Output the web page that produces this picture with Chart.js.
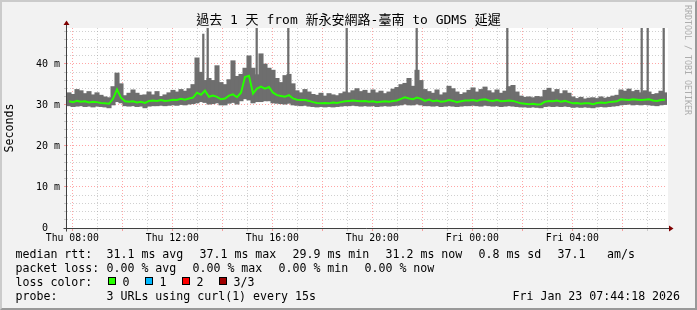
<!DOCTYPE html>
<html>
<head>
<meta charset="utf-8">
<script src="https://cdn.jsdelivr.net/npm/chart.js@4"></script>
<style>
  html, body { margin: 0; padding: 0; background: #fff; }
  #wrap { position: relative; width: 697px; height: 310px; background: #f2f2f2; overflow: hidden;
          font-family: "DejaVu Sans Mono", monospace; color: #000; }
  #frame { position: absolute; left: 0; top: 0; width: 697px; height: 310px; box-sizing: border-box;
           border-left: 2px solid #cbcbcb; border-top: 2px solid #cbcbcb;
           border-right: 2px solid #999; border-bottom: 2px solid #999; }
  canvas { position: absolute; left: 0; top: 0; }
  .t { position: absolute; white-space: pre; font-size: 11.6px; line-height: 14px; }
  #title { position: absolute; left: 0; top: 12px; width: 697px; text-align: center; white-space: pre;
           font-family: "DejaVu Sans Mono", "Noto Sans CJK TC", monospace; font-size: 13px; line-height: 16px; }
  #credit { position: absolute; left: 683px; top: 5px; writing-mode: vertical-rl; white-space: pre;
            font-size: 8.3px; line-height: 10px; color: #adadad; }
  .box { position: absolute; top: 277px; width: 8px; height: 8px; box-sizing: border-box; border: 1px solid #000; }
</style>
</head>
<body>
<div id="wrap">
  <div id="frame"></div>
  <canvas id="chart" width="697" height="310"></canvas>
  <div id="title">過去 1 天 from 新永安網路-臺南 to GDMS 延遲</div>
  <div id="credit">RRDTOOL / TOBI OETIKER</div>

  <div class="t" style="left:15.5px;top:247px">median rtt:</div>
  <div class="t" style="left:106.5px;top:247px">31.1 ms avg</div>
  <div class="t" style="left:199.5px;top:247px">37.1 ms max</div>
  <div class="t" style="left:292.5px;top:247px">29.9 ms min</div>
  <div class="t" style="left:385.5px;top:247px">31.2 ms now</div>
  <div class="t" style="left:478.5px;top:247px">0.8 ms sd</div>
  <div class="t" style="left:557.5px;top:247px">37.1</div>
  <div class="t" style="left:607px;top:247px">am/s</div>

  <div class="t" style="left:15.5px;top:261px">packet loss:</div>
  <div class="t" style="left:106.5px;top:261px">0.00 % avg</div>
  <div class="t" style="left:192.5px;top:261px">0.00 % max</div>
  <div class="t" style="left:278.5px;top:261px">0.00 % min</div>
  <div class="t" style="left:364.5px;top:261px">0.00 % now</div>

  <div class="t" style="left:15.5px;top:275px">loss color:</div>
  <div class="box" style="left:108px;background:#26ff00"></div>
  <div class="t" style="left:122.5px;top:275px">0</div>
  <div class="box" style="left:145px;background:#00b8ff"></div>
  <div class="t" style="left:159.5px;top:275px">1</div>
  <div class="box" style="left:182px;background:#ff0000"></div>
  <div class="t" style="left:196.5px;top:275px">2</div>
  <div class="box" style="left:219px;background:#a00000"></div>
  <div class="t" style="left:233.5px;top:275px">3/3</div>

  <div class="t" style="left:15.5px;top:289px">probe:</div>
  <div class="t" style="left:106.5px;top:289px">3 URLs using curl(1) every 15s</div>
  <div class="t" style="left:512.5px;top:289px">Fri Jan 23 07:44:18 2026</div>
</div>

<script>
// time axis: hours since Thu 00:00, one block per 9.6 minutes
const blockStart = 7.788;
const blockStep  = 0.16;

const smokeMin = [
  29.8, 29.6, 29.7, 29.8, 29.6, 29.7, 29.5, 29.7, 29.6, 29.5,
  29.3, 30.0, 30.8, 30.5, 29.8, 29.7, 29.8, 29.6, 29.7, 29.3,
  29.7, 29.8, 29.8, 29.9, 29.8, 29.9, 30.0, 29.9, 30.1, 30.0,
  30.2, 30.3, 30.5, 30.8, 30.6, 30.2, 30.3, 30.5, 30.0, 30.0,
  30.4, 30.6, 30.2, 31.0, 31.5, 31.2, 30.5, 30.8, 30.8, 31.0,
  31.0, 30.5, 30.4, 30.3, 30.2, 30.4, 30.0, 29.9, 29.8, 29.9,
  29.7, 29.6, 29.5, 29.6, 29.5, 29.6, 29.5, 29.6, 29.7, 29.8,
  29.8, 29.9, 29.8, 29.7, 29.8, 29.7, 29.8, 29.6, 29.7, 29.8,
  29.7, 29.8, 29.9, 30.0, 30.2, 30.0, 30.0, 30.2, 30.0, 29.8,
  29.8, 29.7, 29.8, 29.6, 29.7, 29.8, 29.7, 29.6, 29.7, 29.8,
  29.8, 29.9, 29.8, 29.7, 29.9, 29.8, 29.7, 29.8, 29.6, 29.7,
  29.8, 29.7, 29.6, 29.5, 29.5, 29.4, 29.5, 29.4, 29.3, 29.6,
  29.7, 29.6, 29.7, 29.6, 29.7, 29.6, 29.4, 29.5, 29.4, 29.5,
  29.4, 29.3, 29.5, 29.6, 29.5, 29.6, 29.7, 29.8, 30.0, 30.1,
  30.2, 30.0, 30.1, 30.0, 30.1, 30.0, 29.9, 29.8, 30.0, 30.1
];
const smokeMax = [
  33.0, 32.6, 33.8, 33.5, 32.8, 33.3, 32.5, 33.0, 32.4, 32.0,
  31.8, 34.5, 37.8, 35.2, 32.3, 32.9, 33.7, 32.9, 32.4, 32.5,
  33.2, 32.5, 33.3, 32.1, 32.5, 33.0, 33.6, 33.2, 33.8, 33.4,
  34.0, 35.0, 41.5, 38.0, 36.0, 36.5, 36.0, 39.6, 35.5, 35.0,
  36.2, 40.8, 37.0, 37.5, 39.0, 42.0, 39.0, 37.4, 42.5, 40.0,
  39.0, 38.5, 36.5, 35.5, 37.2, 37.5, 35.2, 33.5, 33.0, 33.8,
  33.2, 32.6, 32.4, 32.9, 32.2, 32.8, 32.5, 32.3, 32.8, 33.2,
  33.0, 33.5, 34.0, 33.3, 33.6, 32.9, 33.7, 33.0, 33.4, 32.8,
  33.2, 33.9, 34.3, 35.0, 35.3, 36.5, 34.6, 38.5, 36.0, 33.8,
  33.3, 32.9, 33.7, 32.5, 33.0, 34.6, 34.0, 33.2, 32.6, 33.0,
  33.6, 34.2, 33.2, 33.8, 34.4, 33.5, 33.0, 33.7, 32.9, 33.4,
  34.5, 34.8, 33.2, 32.2, 31.9, 32.0, 31.8, 32.1, 32.0, 33.6,
  34.1, 33.2, 33.8, 32.8, 33.5, 32.9, 32.0, 31.6, 31.9, 31.5,
  31.7, 31.8, 31.6, 32.0, 31.7, 31.9, 32.2, 32.4, 33.7, 33.4,
  33.9, 33.3, 33.6, 33.0, 33.5, 33.2, 32.6, 32.8, 33.4, 33.0
];
const medianRtt = [
  30.9, 30.7, 31.0, 30.8, 30.9, 30.6, 30.8, 30.7, 30.5, 30.4,
  30.3, 31.5, 33.8, 31.8, 30.9, 30.8, 30.9, 30.6, 30.8, 30.5,
  31.0, 31.1, 31.0, 31.2, 31.0, 31.1, 31.3, 31.2, 31.5, 31.3,
  31.6, 31.8, 33.0, 32.5, 33.5, 32.0, 32.3, 32.0, 31.4, 31.6,
  32.3, 32.6, 31.9, 33.0, 36.8, 37.1, 32.8, 34.0, 34.5, 34.0,
  34.4, 33.0, 32.4, 32.2, 32.0, 32.4, 31.6, 31.3, 31.2, 31.2,
  31.0, 30.7, 30.5, 30.4, 30.5, 30.4, 30.6, 30.5, 30.7, 30.9,
  31.0, 31.1, 31.0, 30.9, 31.0, 30.8, 30.9, 30.7, 30.8, 30.9,
  30.8, 31.0, 31.1, 31.5, 31.9, 31.6, 31.4, 31.8, 31.5, 31.0,
  31.3, 30.9, 31.1, 30.8, 30.9, 31.2, 31.0, 30.7, 30.9, 31.1,
  31.1, 31.2, 31.0, 31.3, 31.4, 31.1, 31.0, 31.2, 30.9, 31.0,
  31.1, 31.0, 30.7, 30.4, 30.3, 30.2, 30.3, 30.1, 30.2, 30.8,
  31.0, 30.9, 31.1, 30.8, 31.0, 30.7, 30.4, 30.5, 30.3, 30.4,
  30.4, 30.2, 30.5, 30.6, 30.5, 30.7, 30.8, 30.9, 31.4, 31.3,
  31.2, 31.4, 31.3, 31.2, 31.3, 31.4, 31.1, 31.0, 31.2, 31.3
];

// single-sample outliers that shoot off the top
const spikeHours = [13.24, 13.416, 15.376, 16.64, 18.976, 21.776, 25.4, 30.776, 31.016, 31.656];
const spikeBase  = [32.5, 32.0, 33.0, 32.0, 31.0, 31.5, 31.0, 31.0, 31.0, 31.0];
const spikeTop   = [47.3, 49.5, 49.5, 49.5, 49.5, 49.5, 49.5, 49.5, 49.5, 49.5];

const xTickHours  = [8, 9, 10, 11, 12, 13, 14, 15, 16, 17, 18, 19, 20, 21, 22, 23, 24, 25, 26, 27, 28, 29, 30, 31];
const xLabelHours = [8, 12, 16, 20, 24, 28];
const xLabels     = ['Thu 08:00', 'Thu 12:00', 'Thu 16:00', 'Thu 20:00', 'Fri 00:00', 'Fri 04:00'];
const yTicks      = [0, 2, 4, 6, 8, 10, 12, 14, 16, 18, 20, 22, 24, 26, 28, 30, 32, 34, 36, 38, 40, 42, 44, 46, 48];

const MGRID = 'rgba(255,0,0,0.35)';
const GRID  = 'rgba(150,150,150,0.45)';
const MONO  = 'DejaVu Sans Mono';

const blockX = i => blockStart + (i + 0.5) * blockStep;
const smoke  = smokeMin.map((lo, i) => ({ x: blockX(i), y: [lo, smokeMax[i]] }));
const spikes = spikeHours.map((h, i) => ({ x: h, y: [spikeBase[i], spikeTop[i]] }));
const median = medianRtt.map((v, i) => ({ x: blockX(i), y: v }));

// white canvas behind the plot, axes with rrdtool arrows on top
const rrdFrame = {
  id: 'rrdFrame',
  beforeDraw(chart) {
    const { ctx, chartArea: a } = chart;
    ctx.save();
    ctx.fillStyle = '#fff';
    ctx.fillRect(a.left, a.top, a.right - a.left + 1, a.bottom - a.top);
    ctx.restore();
  },
  afterDraw(chart) {
    const { ctx, chartArea: a } = chart;
    const ax = a.left - 0.5, ay = a.bottom + 0.5;
    ctx.save();
    ctx.strokeStyle = '#404040';
    ctx.lineWidth = 1;
    ctx.beginPath();
    ctx.moveTo(ax, ay + 3);  ctx.lineTo(ax, a.top - 4);
    ctx.moveTo(ax - 3, ay);  ctx.lineTo(a.right + 3, ay);
    ctx.stroke();
    ctx.fillStyle = '#7f0000';
    ctx.beginPath();
    ctx.moveTo(ax - 3, a.top - 3); ctx.lineTo(ax + 3, a.top - 3); ctx.lineTo(ax, a.top - 7.5);
    ctx.closePath(); ctx.fill();
    ctx.beginPath();
    ctx.moveTo(a.right + 2, ay - 3); ctx.lineTo(a.right + 2, ay + 3); ctx.lineTo(a.right + 6.5, ay);
    ctx.closePath(); ctx.fill();
    ctx.restore();
  }
};

new Chart(document.getElementById('chart'), {
  type: 'bar',
  data: {
    datasets: [
      { type: 'bar', data: smoke, backgroundColor: '#6e6e6e', barThickness: 4.4, grouped: false, order: 3 },
      { type: 'bar', data: spikes, backgroundColor: '#6e6e6e', barThickness: 1.6, grouped: false, order: 2 },
      { type: 'line', data: median, borderColor: '#26ff00', borderWidth: 2, pointRadius: 0, tension: 0, order: 1 }
    ]
  },
  options: {
    responsive: false,
    animation: false,
    devicePixelRatio: 1,
    layout: { padding: { left: 0, top: 28, right: 30, bottom: 0 } },
    plugins: { legend: { display: false }, tooltip: { enabled: false } },
    scales: {
      x: {
        type: 'linear', min: blockStart, max: blockStart + 24, offset: false,
        afterBuildTicks: s => { s.ticks = xTickHours.map(v => ({ value: v })); },
        afterFit: s => { s.height = 82; },
        grid: { offset: false, color: c => (c.tick && c.tick.value % 2 === 0 ? MGRID : GRID), tickLength: 3 },
        border: { display: false, dash: [1, 2] },
        ticks: {
          autoSkip: false, maxRotation: 0, padding: 2, color: '#000',
          font: { family: MONO, size: 9.8 },
          callback: v => { const k = xLabelHours.indexOf(v); return k < 0 ? '' : xLabels[k]; }
        }
      },
      y: {
        min: 0, max: 48.78,
        afterBuildTicks: s => { s.ticks = yTicks.map(v => ({ value: v })); },
        afterFit: s => { s.width = 67; },
        grid: { color: c => (c.tick && c.tick.value % 10 === 0 ? MGRID : GRID), tickLength: 3 },
        border: { display: false, dash: [1, 2] },
        ticks: {
          autoSkip: false, padding: 4, color: '#000',
          font: { family: MONO, size: 10 },
          callback: v => (v % 10 === 0 ? (v === 0 ? '0  ' : v + ' m') : '')
        },
        title: { display: true, text: 'Seconds', color: '#000', font: { family: MONO, size: 11.6 }, padding: { top: 3, bottom: 0 } }
      }
    }
  },
  plugins: [rrdFrame]
});
</script>
</body>
</html>
